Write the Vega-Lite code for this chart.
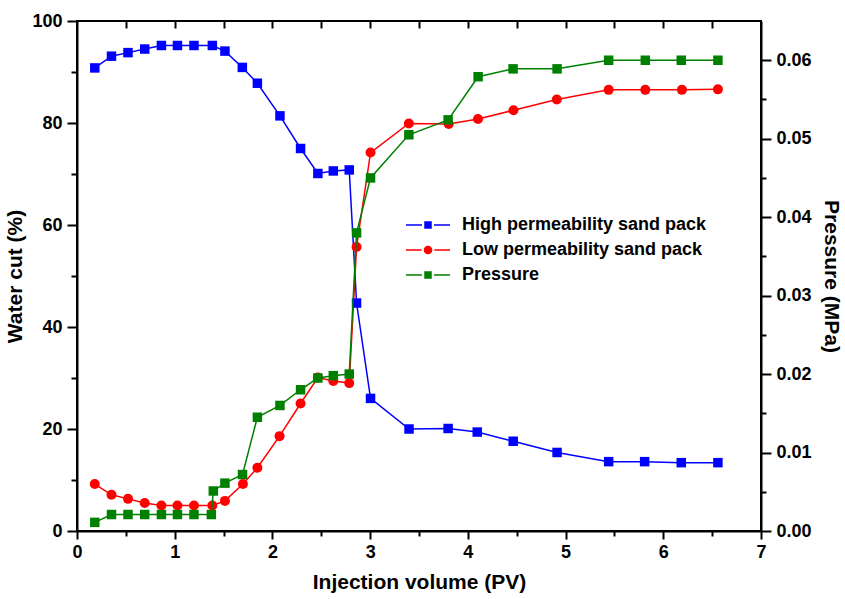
{
  "$schema": "https://vega.github.io/schema/vega-lite/v6.json",
  "width": 684,
  "height": 510,
  "autosize": {"type": "none"},
  "padding": {"left": 77, "top": 21, "right": 84, "bottom": 68},
  "background": "white",
  "config": {
    "view": {"stroke": "black", "strokeWidth": 2},
    "font": "Liberation Sans",
    "axis": {
      "domainColor": "black", "domainWidth": 2, "tickColor": "black", "tickWidth": 2,
      "labelFont": "Liberation Sans", "labelFontSize": 18, "labelFontWeight": "bold", "labelColor": "black",
      "titleFont": "Liberation Sans", "titleFontSize": 21, "titleFontWeight": "bold", "titleColor": "black",
      "grid": false
    }
  },
  "data": {
    "values": [
      {"pv": 0.182, "value": 90.8, "series": "High permeability sand pack"},
      {"pv": 0.353, "value": 93.1, "series": "High permeability sand pack"},
      {"pv": 0.522, "value": 93.8, "series": "High permeability sand pack"},
      {"pv": 0.693, "value": 94.5, "series": "High permeability sand pack"},
      {"pv": 0.864, "value": 95.2, "series": "High permeability sand pack"},
      {"pv": 1.028, "value": 95.2, "series": "High permeability sand pack"},
      {"pv": 1.197, "value": 95.2, "series": "High permeability sand pack"},
      {"pv": 1.385, "value": 95.2, "series": "High permeability sand pack"},
      {"pv": 1.514, "value": 94.1, "series": "High permeability sand pack"},
      {"pv": 1.692, "value": 90.9, "series": "High permeability sand pack"},
      {"pv": 1.846, "value": 87.8, "series": "High permeability sand pack"},
      {"pv": 2.077, "value": 81.4, "series": "High permeability sand pack"},
      {"pv": 2.288, "value": 75.0, "series": "High permeability sand pack"},
      {"pv": 2.465, "value": 70.1, "series": "High permeability sand pack"},
      {"pv": 2.623, "value": 70.6, "series": "High permeability sand pack"},
      {"pv": 2.786, "value": 70.8, "series": "High permeability sand pack"},
      {"pv": 2.861, "value": 44.7, "series": "High permeability sand pack"},
      {"pv": 3.004, "value": 26.0, "series": "High permeability sand pack"},
      {"pv": 3.398, "value": 20.0, "series": "High permeability sand pack"},
      {"pv": 3.798, "value": 20.1, "series": "High permeability sand pack"},
      {"pv": 4.096, "value": 19.4, "series": "High permeability sand pack"},
      {"pv": 4.464, "value": 17.6, "series": "High permeability sand pack"},
      {"pv": 4.913, "value": 15.4, "series": "High permeability sand pack"},
      {"pv": 5.441, "value": 13.6, "series": "High permeability sand pack"},
      {"pv": 5.809, "value": 13.6, "series": "High permeability sand pack"},
      {"pv": 6.184, "value": 13.4, "series": "High permeability sand pack"},
      {"pv": 6.559, "value": 13.4, "series": "High permeability sand pack"},
      {"pv": 0.182, "value": 9.2, "series": "Low permeability sand pack"},
      {"pv": 0.353, "value": 7.1, "series": "Low permeability sand pack"},
      {"pv": 0.522, "value": 6.3, "series": "Low permeability sand pack"},
      {"pv": 0.693, "value": 5.5, "series": "Low permeability sand pack"},
      {"pv": 0.864, "value": 5.0, "series": "Low permeability sand pack"},
      {"pv": 1.028, "value": 5.0, "series": "Low permeability sand pack"},
      {"pv": 1.197, "value": 5.0, "series": "Low permeability sand pack"},
      {"pv": 1.385, "value": 5.0, "series": "Low permeability sand pack"},
      {"pv": 1.514, "value": 5.9, "series": "Low permeability sand pack"},
      {"pv": 1.698, "value": 9.2, "series": "Low permeability sand pack"},
      {"pv": 1.846, "value": 12.4, "series": "Low permeability sand pack"},
      {"pv": 2.073, "value": 18.6, "series": "Low permeability sand pack"},
      {"pv": 2.288, "value": 25.0, "series": "Low permeability sand pack"},
      {"pv": 2.465, "value": 30.1, "series": "Low permeability sand pack"},
      {"pv": 2.623, "value": 29.4, "series": "Low permeability sand pack"},
      {"pv": 2.786, "value": 29.0, "series": "Low permeability sand pack"},
      {"pv": 2.861, "value": 55.7, "series": "Low permeability sand pack"},
      {"pv": 3.004, "value": 74.2, "series": "Low permeability sand pack"},
      {"pv": 3.396, "value": 79.9, "series": "Low permeability sand pack"},
      {"pv": 3.804, "value": 79.8, "series": "Low permeability sand pack"},
      {"pv": 4.104, "value": 80.8, "series": "Low permeability sand pack"},
      {"pv": 4.467, "value": 82.5, "series": "Low permeability sand pack"},
      {"pv": 4.910, "value": 84.6, "series": "Low permeability sand pack"},
      {"pv": 5.441, "value": 86.5, "series": "Low permeability sand pack"},
      {"pv": 5.816, "value": 86.5, "series": "Low permeability sand pack"},
      {"pv": 6.191, "value": 86.5, "series": "Low permeability sand pack"},
      {"pv": 6.559, "value": 86.6, "series": "Low permeability sand pack"},
      {"pv": 0.182, "value": 0.0011, "series": "Pressure"},
      {"pv": 0.353, "value": 0.0021, "series": "Pressure"},
      {"pv": 0.522, "value": 0.0021, "series": "Pressure"},
      {"pv": 0.693, "value": 0.0021, "series": "Pressure"},
      {"pv": 0.864, "value": 0.0021, "series": "Pressure"},
      {"pv": 1.028, "value": 0.0021, "series": "Pressure"},
      {"pv": 1.197, "value": 0.0021, "series": "Pressure"},
      {"pv": 1.375, "value": 0.0021, "series": "Pressure"},
      {"pv": 1.395, "value": 0.0051, "series": "Pressure"},
      {"pv": 1.514, "value": 0.0061, "series": "Pressure"},
      {"pv": 1.694, "value": 0.0072, "series": "Pressure"},
      {"pv": 1.846, "value": 0.0145, "series": "Pressure"},
      {"pv": 2.077, "value": 0.0160, "series": "Pressure"},
      {"pv": 2.288, "value": 0.0180, "series": "Pressure"},
      {"pv": 2.465, "value": 0.0195, "series": "Pressure"},
      {"pv": 2.623, "value": 0.0198, "series": "Pressure"},
      {"pv": 2.786, "value": 0.0200, "series": "Pressure"},
      {"pv": 2.861, "value": 0.0380, "series": "Pressure"},
      {"pv": 3.004, "value": 0.0450, "series": "Pressure"},
      {"pv": 3.396, "value": 0.0505, "series": "Pressure"},
      {"pv": 3.798, "value": 0.0524, "series": "Pressure"},
      {"pv": 4.105, "value": 0.0579, "series": "Pressure"},
      {"pv": 4.463, "value": 0.0589, "series": "Pressure"},
      {"pv": 4.913, "value": 0.0589, "series": "Pressure"},
      {"pv": 5.441, "value": 0.0600, "series": "Pressure"},
      {"pv": 5.816, "value": 0.0600, "series": "Pressure"},
      {"pv": 6.184, "value": 0.0600, "series": "Pressure"},
      {"pv": 6.559, "value": 0.0600, "series": "Pressure"}
    ]
  },
  "layer": [
    {
      "transform": [{"filter": "datum.series !== 'Pressure'"}],
      "encoding": {
        "x": {
          "field": "pv", "type": "quantitative",
          "scale": {"domain": [0, 7], "nice": false, "zero": false},
          "axis": {
            "orient": "bottom", "title": "Injection volume (PV)",
            "values": [0, 0.5, 1, 1.5, 2, 2.5, 3, 3.5, 4, 4.5, 5, 5.5, 6, 6.5, 7],
            "labelExpr": "datum.value % 1 === 0 ? format(datum.value, 'd') : ''",
            "tickSize": {"condition": {"test": "datum.value % 1 !== 0", "value": 5}, "value": 8},
            "labelPadding": 4, "titlePadding": 10, "labelFlush": false
          }
        },
        "y": {
          "field": "value", "type": "quantitative",
          "scale": {"domain": [0, 100], "nice": false},
          "axis": {
            "orient": "left", "title": "Water cut (%)",
            "values": [0, 10, 20, 30, 40, 50, 60, 70, 80, 90, 100],
            "labelExpr": "datum.value % 20 === 0 ? format(datum.value, 'd') : ''",
            "tickSize": {"condition": {"test": "datum.value % 20 !== 0", "value": 6}, "value": 10},
            "labelPadding": 5, "titlePadding": 6, "labelFlush": false
          }
        },
        "color": {
          "field": "series", "type": "nominal",
          "scale": {
            "domain": ["High permeability sand pack", "Low permeability sand pack", "Pressure"],
            "range": ["#0000FF", "#FF0000", "#008000"]
          },
          "legend": {
            "orient": "none", "legendX": 342, "legendY": 195, "title": null, "padding": 0,
            "labelFont": "Liberation Sans", "labelFontSize": 18, "labelFontWeight": "bold", "labelColor": "black", "labelLimit": 0,
            "symbolSize": 64, "labelOffset": 25, "rowPadding": 7, "symbolStrokeWidth": 1.5,
            "encode": {
              "symbols": {
                "update": {
                  "shape": {"signal": "datum.value === 'Low permeability sand pack' ? 'M-5.5,0H-1.6M1.6,0H5.5M-0.9,0A0.9,0.9 0 1,0 0.9,0A0.9,0.9 0 1,0 -0.9,0Z' : 'M-5.5,0H-1.5M1.5,0H5.5M-0.75,-0.75H0.75V0.75H-0.75Z'"},
                  "fill": {"signal": "scale('color', datum.value)"},
                  "stroke": {"signal": "scale('color', datum.value)"},
                  "strokeWidth": {"value": 1.5},
                  "opacity": {"value": 1},
                  "fillOpacity": {"value": 1}
                }
              }
            }
          }
        }
      },
      "layer": [
        {"mark": {"type": "line", "strokeWidth": 1.5}},
        {
          "mark": {"type": "point", "filled": true, "opacity": 1, "size": 90},
          "encoding": {
            "shape": {"condition": {"test": "datum.series === 'Low permeability sand pack'", "value": "circle"}, "value": "square"},
            "size": {"condition": {"test": "datum.series === 'Low permeability sand pack'", "value": 100}, "value": 90}
          }
        }
      ]
    },
    {
      "transform": [{"filter": "datum.series === 'Pressure'"}],
      "encoding": {
        "x": {
          "field": "pv", "type": "quantitative",
          "scale": {"domain": [0, 7], "nice": false, "zero": false},
          "axis": {
            "orient": "top", "title": null, "labels": false, "domain": false,
            "values": [0.5, 1, 1.5, 2, 2.5, 3, 3.5, 4, 4.5, 5, 5.5, 6, 6.5],
            "tickSize": 7, "offset": -7
          }
        },
        "y": {
          "field": "value", "type": "quantitative",
          "scale": {"domain": [0, 0.065], "nice": false},
          "axis": {
            "orient": "right", "title": "Pressure (MPa)",
            "values": [0, 0.005, 0.01, 0.015, 0.02, 0.025, 0.03, 0.035, 0.04, 0.045, 0.05, 0.055, 0.06],
            "labelExpr": "round(datum.value * 1000) % 10 === 0 ? format(datum.value, '.2f') : ''",
            "tickSize": {"condition": {"test": "round(datum.value * 1000) % 10 !== 0", "value": 5}, "value": 10},
            "labelPadding": 5, "titlePadding": 9, "titleAngle": 90, "labelFlush": false
          }
        },
        "color": {
          "field": "series", "type": "nominal",
          "scale": {
            "domain": ["High permeability sand pack", "Low permeability sand pack", "Pressure"],
            "range": ["#0000FF", "#FF0000", "#008000"]
          },
          "legend": {
            "orient": "none", "legendX": 342, "legendY": 195, "title": null, "padding": 0,
            "labelFont": "Liberation Sans", "labelFontSize": 18, "labelFontWeight": "bold", "labelColor": "black", "labelLimit": 0,
            "symbolSize": 64, "labelOffset": 25, "rowPadding": 7, "symbolStrokeWidth": 1.5,
            "encode": {
              "symbols": {
                "update": {
                  "shape": {"signal": "datum.value === 'Low permeability sand pack' ? 'M-5.5,0H-1.6M1.6,0H5.5M-0.9,0A0.9,0.9 0 1,0 0.9,0A0.9,0.9 0 1,0 -0.9,0Z' : 'M-5.5,0H-1.5M1.5,0H5.5M-0.75,-0.75H0.75V0.75H-0.75Z'"},
                  "fill": {"signal": "scale('color', datum.value)"},
                  "stroke": {"signal": "scale('color', datum.value)"},
                  "strokeWidth": {"value": 1.5},
                  "opacity": {"value": 1},
                  "fillOpacity": {"value": 1}
                }
              }
            }
          }
        }
      },
      "layer": [
        {"mark": {"type": "line", "strokeWidth": 1.5}},
        {"mark": {"type": "point", "filled": true, "opacity": 1, "shape": "square", "size": 90}}
      ]
    }
  ],
  "resolve": {"scale": {"y": "independent"}, "axis": {"x": "independent"}}
}
